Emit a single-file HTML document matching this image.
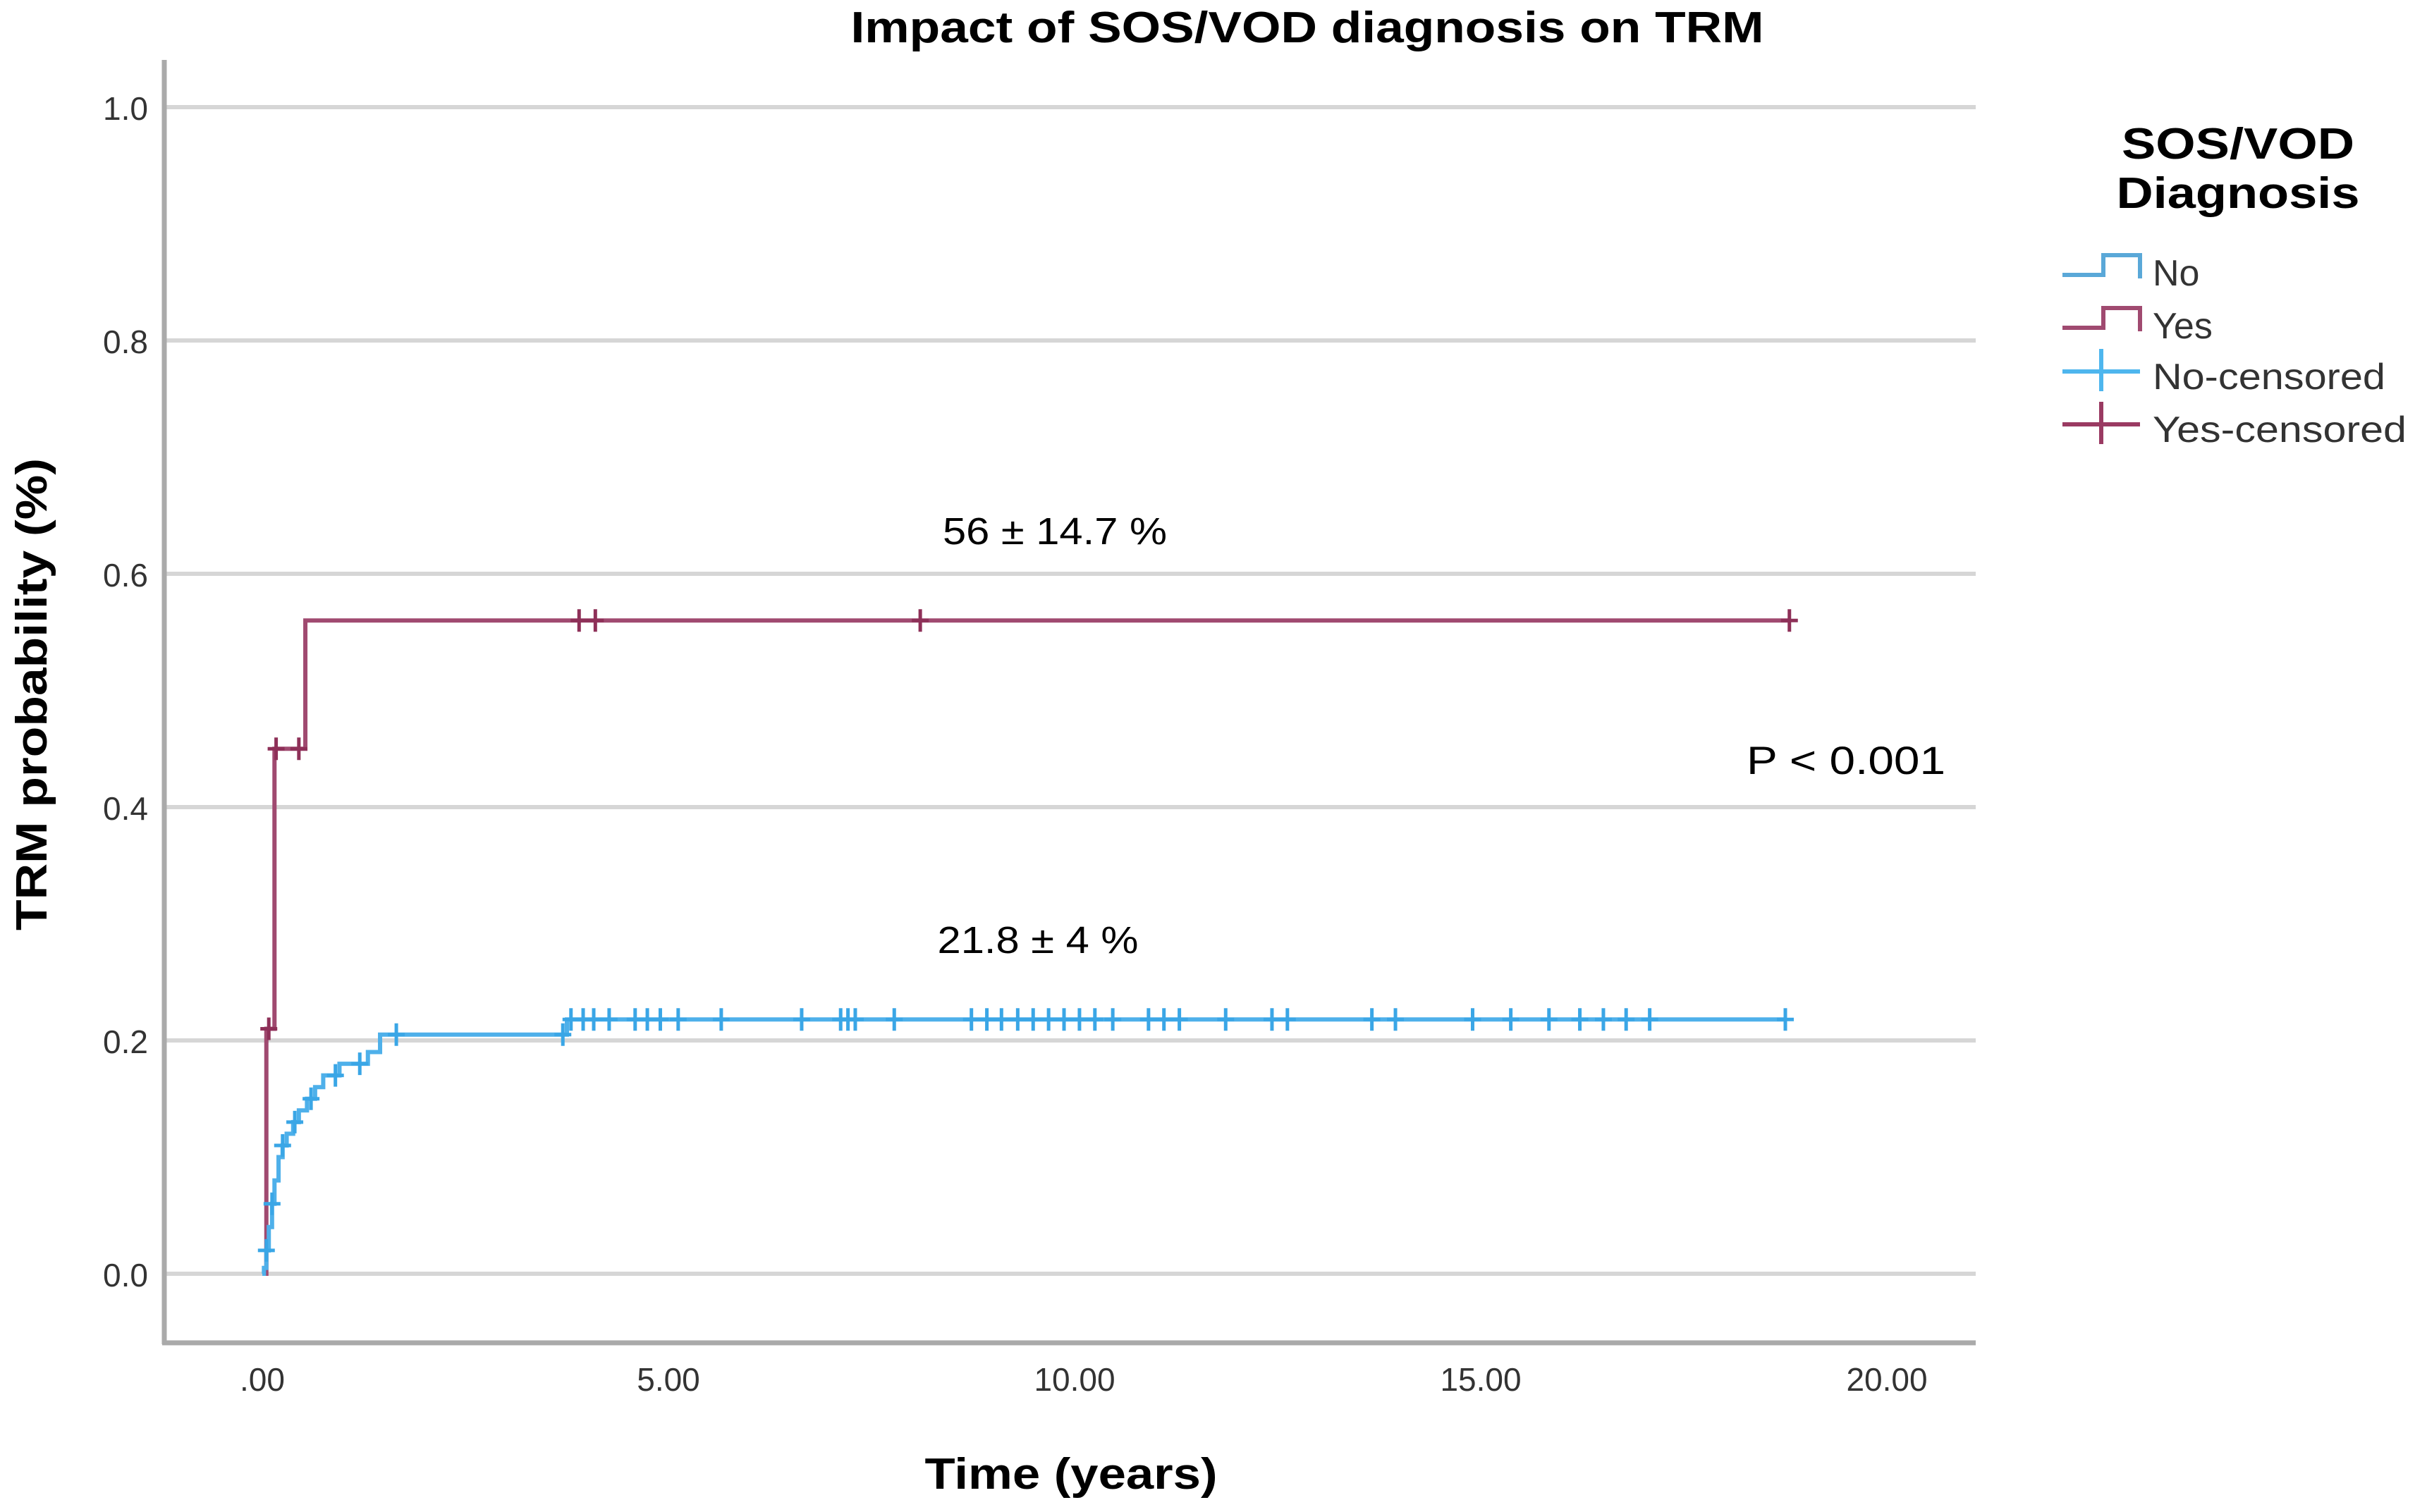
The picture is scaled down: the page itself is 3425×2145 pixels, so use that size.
<!DOCTYPE html>
<html><head><meta charset="utf-8"><style>
html,body{margin:0;padding:0;background:#fff;}
svg{display:block;font-family:"Liberation Sans",sans-serif;}
</style></head><body>
<svg id="chart" width="3425" height="2145" viewBox="0 0 3425 2145" xmlns="http://www.w3.org/2000/svg">
<rect width="3425" height="2145" fill="#fff"/>
<text x="1854" y="60" text-anchor="middle" font-size="62" font-weight="bold" textLength="1295" lengthAdjust="spacingAndGlyphs">Impact of SOS/VOD diagnosis on TRM</text>
<g id="grid"></g>
<line x1="233" y1="85" x2="233" y2="1907" stroke="#aaa" stroke-width="7"/>
<line x1="230" y1="1905" x2="2802" y2="1905" stroke="#aaa" stroke-width="7"/>
<g id="yticks"></g><g id="xticks"></g>
<g id="series"></g>
<text transform="translate(66,985) rotate(-90)" text-anchor="middle" font-size="62" font-weight="bold" textLength="670" lengthAdjust="spacingAndGlyphs">TRM probability (%)</text>
<text x="1519" y="2112" text-anchor="middle" font-size="62" font-weight="bold" textLength="415" lengthAdjust="spacingAndGlyphs">Time (years)</text>
<text x="1496" y="772" text-anchor="middle" font-size="54" textLength="318" lengthAdjust="spacingAndGlyphs">56 ± 14.7 %</text>
<text x="1472" y="1352" text-anchor="middle" font-size="54" textLength="285" lengthAdjust="spacingAndGlyphs">21.8 ± 4 %</text>
<text x="2759" y="1098" text-anchor="end" font-size="56" textLength="282" lengthAdjust="spacingAndGlyphs">P &lt; 0.001</text>
<g>
<text x="3174" y="225" text-anchor="middle" font-size="62" font-weight="bold" textLength="330" lengthAdjust="spacingAndGlyphs">SOS/VOD</text>
<text x="3174" y="295" text-anchor="middle" font-size="62" font-weight="bold" textLength="345" lengthAdjust="spacingAndGlyphs">Diagnosis</text>
<g><path d="M2925 390 H2983 V362 H3035 V395" fill="none" stroke="#5aa8d8" stroke-width="6"/><text x="3053" y="405" font-size="52" fill="#333">No</text></g>
<g><path d="M2925 465 H2983 V437 H3035 V470" fill="none" stroke="#a04a70" stroke-width="6"/><text x="3053" y="480" font-size="52" fill="#333">Yes</text></g>
<g><path d="M2925 527 H3035 M2980 495 V555" stroke="#4eb6ee" stroke-width="6"/><text x="3053" y="552" font-size="52" fill="#333" textLength="330" lengthAdjust="spacingAndGlyphs">No-censored</text></g>
<g><path d="M2925 602 H3035 M2980 570 V630" stroke="#9a3a62" stroke-width="6"/><text x="3053" y="627" font-size="52" fill="#333" textLength="360" lengthAdjust="spacingAndGlyphs">Yes-censored</text></g>
</g>
</svg>
<script>
const yTicks=[0,0.2,0.4,0.6,0.8,1.0];
const yTickLabels=["0.0","0.2","0.4","0.6","0.8","1.0"];
const xTicks=[0,5,10,15,20];
const xTickLabels=[".00","5.00","10.00","15.00","20.00"];
const noTimes=[0,0.02,0.05,0.08,0.12,0.15,0.2,0.25,0.3,0.38,0.45,0.55,0.65,0.75,0.95,1.3,1.45,3.75,18.75];
const noValues=[0,0.005,0.02,0.04,0.06,0.08,0.1,0.11,0.12,0.13,0.14,0.15,0.16,0.17,0.18,0.19,0.205,0.218,0.218];
const yesTimes=[0,0.05,0.15,0.53,18.8];
const yesValues=[0,0.21,0.45,0.56,0.56];
const noCensorTimes=[0.05,0.12,0.25,0.4,0.6,0.9,1.2,1.65,3.7,3.8,3.95,4.08,4.27,4.59,4.74,4.9,5.12,5.65,6.64,7.12,7.21,7.3,7.78,8.73,8.92,9.1,9.3,9.49,9.68,9.87,10.06,10.25,10.47,10.91,11.1,11.29,11.86,12.43,12.62,13.66,13.95,14.9,15.37,15.84,16.22,16.51,16.79,17.08,18.75];
const yesCensorTimes=[0.08,0.17,0.45,3.9,4.1,8.1,18.8];
const NS="http://www.w3.org/2000/svg";
const X=t=>372+t*115.2, Y=v=>1807-v*1655;
function mk(tag,attrs,parent){const e=document.createElementNS(NS,tag);for(const k in attrs)e.setAttribute(k,attrs[k]);parent.appendChild(e);return e;}
const grid=document.getElementById('grid'),yt=document.getElementById('yticks'),xt=document.getElementById('xticks'),ser=document.getElementById('series');
yTicks.forEach((v,i)=>{
 const l=mk('line',{x1:236,x2:2802,y1:Y(v),y2:Y(v),stroke:'#d6d6d6','stroke-width':6},grid);
 
 
 const t=mk('text',{x:210,y:Y(v)+18,'text-anchor':'end','font-size':46,fill:'#333'},yt);
 
 
 t.textContent=yTickLabels[i];
});
xTicks.forEach((v,i)=>{
 const t=mk('text',{x:X(v),y:1973,'text-anchor':'middle','font-size':46,fill:'#333'},xt);
 
 
 t.textContent=xTickLabels[i];
});
function valAt(ts,vs,t){let v=vs[0];for(let i=0;i<ts.length;i++){if(ts[i]<=t)v=vs[i];}return v;}
function step(ts,vs,color,name){
 let d='M'+X(ts[0])+' '+Y(vs[0]);
 for(let i=1;i<ts.length;i++){d+=' H'+X(ts[i])+' V'+Y(vs[i]);}
 const p=mk('path',{d:d,fill:'none',stroke:color,'stroke-width':6},ser);
 
 
}
function cens(times,ts,vs,color,name){
 times.forEach(t=>{
  const x=X(t),y=Y(valAt(ts,vs,t));
  const p=mk('path',{d:`M${x-12} ${y} H${x+12} M${x} ${y-16} V${y+16}`,stroke:color,'stroke-width':5},ser);
  
  
 });
}
step(yesTimes,yesValues,'#a04a70','yes-curve');
step(noTimes,noValues,'#4eb0ea','no-curve');
cens(yesCensorTimes,yesTimes,yesValues,'#8e3058','yes-censor-mark');
cens(noCensorTimes,noTimes,noValues,'#3aa6e6','no-censor-mark');
</script>
</body></html>
